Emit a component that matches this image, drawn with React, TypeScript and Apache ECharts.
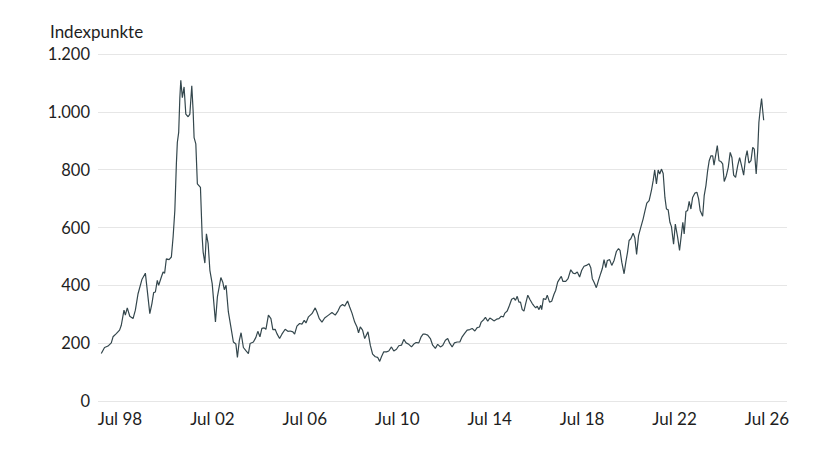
import React, { useEffect, useRef } from 'react'
import * as echarts from 'echarts'

// Zeitpunkt in Monaten ab Juli 1998 (Jul 98 = 0)
const monthsFromJul98: number[] = [
    -9.7, -8.0, -6.2, -4.5, -3.6, -1.9, -0.2, 0.7, 2.1, 2.8,
    3.8, 5.1, 6.8, 8.0, 9.4, 11.4, 13.2, 14.0, 15.5, 16.6,
    17.5, 18.4, 19.4, 20.1, 21.5, 22.4, 23.2, 24.1, 25.5, 26.7,
    27.6, 28.5, 29.3, 29.8, 30.5, 31.1, 31.6, 32.4, 33.3, 34.2,
    35.4, 36.3, 37.3, 38.0, 38.5, 39.4, 40.2, 41.8, 42.7, 43.2,
    44.1, 44.9, 45.8, 46.7, 47.9, 49.6, 50.6, 52.4, 53.4, 54.2,
    55.1, 56.3, 57.6, 58.9, 60.2, 61.0, 62.0, 62.9, 64.1, 65.5,
    66.7, 67.6, 69.3, 70.6, 71.6, 72.7, 73.7, 74.9, 75.8, 77.1,
    78.4, 79.4, 80.6, 81.5, 82.9, 84.1, 85.8, 87.2, 88.4, 89.8,
    90.7, 91.9, 93.3, 94.5, 95.7, 96.6, 97.9, 99.7, 101.4, 102.3,
    103.5, 104.9, 106.3, 108.3, 110.1, 111.8, 113.2, 114.4, 115.6, 116.7,
    118.2, 119.3, 120.5, 121.9, 123.1, 123.9, 124.8, 126.0, 127.1, 128.8,
    130.0, 131.2, 132.6, 133.8, 134.9, 135.8, 137.0, 138.4, 139.6, 141.0,
    142.2, 143.6, 144.8, 146.2, 147.4, 148.6, 150.0, 151.4, 152.6, 153.8,
    155.2, 156.4, 157.4, 158.6, 159.8, 161.2, 162.4, 163.8, 165.0, 166.4,
    167.6, 169.0, 170.2, 171.3, 172.5, 173.7, 175.1, 176.5, 177.7, 178.9,
    180.3, 181.7, 182.9, 184.3, 185.5, 186.7, 187.6, 189.0, 189.8, 191.0,
    192.1, 193.3, 194.2, 195.6, 196.8, 198.0, 199.1, 199.9, 201.1, 202.3,
    203.4, 204.6, 205.4, 206.3, 207.2, 208.0, 208.9, 209.8, 210.7, 211.8,
    212.9, 214.1, 215.0, 215.9, 216.7, 217.6, 218.5, 219.0, 219.9, 221.1,
    221.9, 223.1, 224.2, 225.4, 226.3, 227.3, 228.4, 229.2, 230.0, 231.5,
    232.7, 234.1, 235.3, 236.3, 237.5, 238.7, 239.8, 241.0, 242.2, 243.6,
    244.5, 245.3, 246.2, 247.4, 248.5, 249.7, 250.5, 251.4, 252.3, 253.1,
    254.3, 255.4, 256.6, 257.8, 258.9, 259.7, 260.6, 261.8, 262.7, 263.6,
    264.4, 265.3, 266.5, 267.4, 268.3, 269.3, 270.5, 271.7, 272.7, 273.6,
    274.8, 276.0, 276.9, 277.7, 278.6, 279.5, 280.3, 281.2, 282.1, 283.0,
    283.8, 284.7, 285.6, 286.4, 287.5, 288.4, 289.6, 290.6, 291.6, 292.3,
    293.0, 293.9, 294.8, 295.6, 296.5, 297.4, 298.6, 299.6, 300.5, 301.3,
    302.6, 303.4, 304.3, 305.2, 306.0, 306.9, 307.8, 308.5, 309.3, 310.2,
    311.1, 312.1, 313.0, 313.8, 314.9, 315.9, 316.9, 317.8, 318.7, 319.7,
    320.8, 321.8, 322.8, 323.9, 324.9, 325.7, 326.6, 327.7, 328.6, 329.4,
    330.4, 331.2, 331.8, 332.5, 333.2, 333.8, 334.3,
]

// Indexstand in Indexpunkten
const indexPoints: number[] = [
    164, 185, 190, 201, 222, 233, 245, 262, 314, 297,
    322, 293, 285, 314, 371, 420, 442, 394, 302, 337,
    375, 377, 417, 400, 429, 446, 442, 492, 489, 498,
    567, 659, 820, 894, 929, 1049, 1109, 1049, 1086, 992,
    983, 992, 1090, 1003, 911, 889, 751, 739, 567, 515,
    477, 578, 544, 452, 406, 273, 360, 427, 411, 385,
    400, 308, 256, 204, 197, 151, 210, 236, 185, 173,
    164, 199, 204, 220, 241, 222, 251, 253, 248, 297,
    285, 247, 248, 233, 216, 231, 248, 241, 242, 239,
    231, 259, 268, 266, 279, 270, 291, 302, 322, 308,
    285, 273, 287, 297, 306, 297, 311, 328, 334, 328,
    346, 325, 304, 273, 256, 236, 256, 245, 216, 239,
    193, 162, 153, 151, 137, 153, 170, 170, 173, 187,
    173, 179, 191, 193, 213, 201, 196, 187, 197, 202,
    201, 222, 231, 231, 228, 216, 193, 182, 196, 187,
    192, 210, 216, 199, 187, 201, 204, 204, 222, 233,
    245, 247, 251, 242, 254, 256, 273, 282, 289, 276,
    287, 282, 277, 283, 285, 293, 291, 304, 311, 331,
    352, 356, 348, 362, 342, 342, 316, 311, 337, 366,
    351, 337, 329, 322, 328, 316, 331, 316, 354, 351,
    366, 342, 345, 369, 383, 411, 423, 431, 414, 414,
    423, 454, 442, 440, 446, 429, 452, 466, 469, 475,
    461, 423, 411, 392, 417, 442, 458, 489, 461, 486,
    489, 469, 486, 517, 527, 521, 480, 440, 480, 515,
    555, 561, 580, 564, 507, 572, 601, 630, 659, 684,
    693, 728, 762, 799, 751, 799, 785, 802, 787, 704,
    664, 661, 618, 603, 542, 612, 567, 521, 578, 618,
    578, 655, 659, 690, 664, 704, 719, 722, 699, 659,
    639, 710, 745, 797, 831, 848, 848, 816, 848, 883,
    831, 828, 820, 759, 779, 808, 860, 842, 781, 773,
    814, 842, 814, 781, 842, 866, 823, 831, 877, 871,
    785, 866, 963, 1009, 1046, 1003, 971,
]

// Beschriftete Zeitpunkte: Jul 98, Jul 02, ... Jul 26
const labelMonths = [0, 48, 96, 144, 192, 240, 288, 336]
const xRange = [-11.4, 346.4]
const yMin = 0
const yMax = 1200
const yStep = 200

const FONT = 'Lato, "Noto Sans", sans-serif'
const TEXT = '#1e1e1e'

function formatDe(v: number): string {
    if (v >= 1000) {
        const rest = String(v % 1000).padStart(3, '0')
        return Math.floor(v / 1000) + '.' + rest
    }
    return String(v)
}

function formatMonth(v: number): string {
    const yy = Math.round(98 + v / 12) % 100
    return 'Jul ' + String(yy).padStart(2, '0')
}

const App: React.FC = () => {
    const chartRef = useRef<HTMLDivElement | null>(null)

    useEffect(() => {
        if (!chartRef.current) return
        const chart = echarts.init(chartRef.current, undefined, { renderer: 'svg' })

        const seriesData = monthsFromJul98.map((m, i) => [m, indexPoints[i]])

        chart.setOption({
            animation: false,
            backgroundColor: '#ffffff',
            title: {
                text: 'Indexpunkte',
                left: 50,
                top: 23,
                padding: 0,
                textStyle: { fontFamily: FONT, fontSize: 17, fontWeight: 'normal', color: TEXT },
            },
            grid: { left: 98, right: 53, top: 54, bottom: 48, containLabel: false },
            xAxis: {
                type: 'value',
                min: xRange[0],
                max: xRange[1],
                axisLine: { show: false },
                axisTick: { show: false },
                splitLine: { show: false },
                axisLabel: {
                    customValues: labelMonths,
                    formatter: (v: number) => formatMonth(v),
                    margin: 9,
                    fontFamily: FONT,
                    fontSize: 17,
                    color: TEXT,
                },
            },
            yAxis: {
                type: 'value',
                min: yMin,
                max: yMax,
                interval: yStep,
                axisLine: { show: false },
                axisTick: { show: false },
                splitLine: { lineStyle: { color: '#e6e6e6', width: 1 } },
                axisLabel: {
                    formatter: (v: number) => formatDe(v),
                    margin: 8,
                    fontFamily: FONT,
                    fontSize: 16.5,
                    color: TEXT,
                },
            },
            series: [
                {
                    type: 'line',
                    data: seriesData,
                    showSymbol: false,
                    symbol: 'none',
                    lineStyle: { color: '#34474d', width: 1.2 },
                },
            ],
        })

        return () => {
            chart.dispose()
        }
    }, [])

    return (
        <div
            ref={chartRef}
            style={{ position: 'absolute', left: 0, top: 0, width: 840, height: 449 }}
        />
    )
}

export default App
